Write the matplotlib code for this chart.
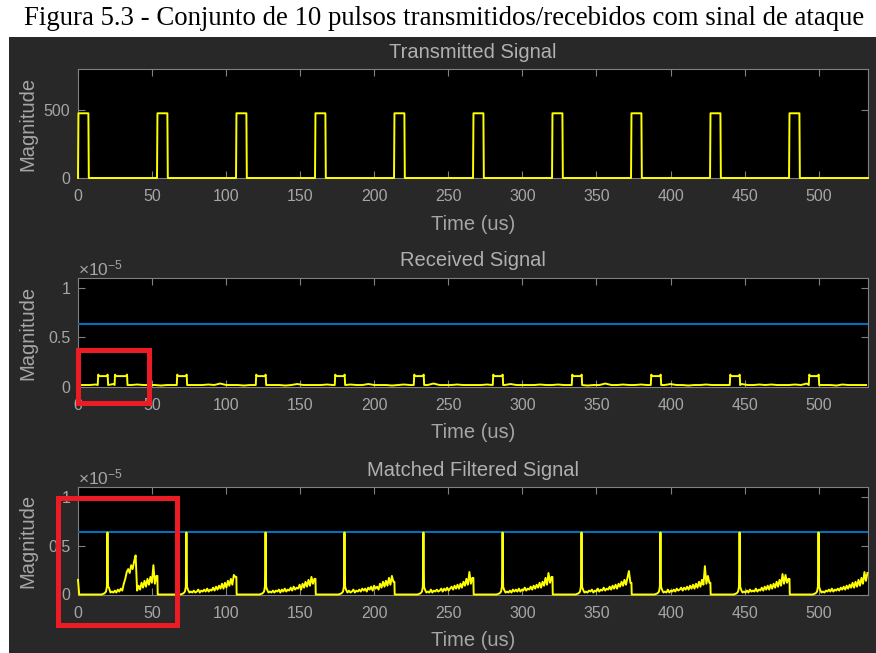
import numpy as np
import matplotlib.pyplot as plt
from matplotlib.patches import Rectangle

plt.rcParams['font.family'] = ['Liberation Sans', 'DejaVu Sans']
plt.rcParams['mathtext.fontset'] = 'custom'
plt.rcParams['mathtext.rm'] = 'Liberation Sans'
plt.rcParams['mathtext.it'] = 'Liberation Sans:italic'

# time in microseconds; received / filtered magnitudes in units of 1e-5
t_end = 533.3

tx_starts = [0.0, 53.33, 106.67, 160.0, 213.33, 266.67, 320.0, 373.33, 426.67, 480.0]
tx_width = 7.0
tx_level = 475.0

rx_starts = [13.33, 66.67, 120.0, 173.33, 226.67, 280.0, 333.33, 386.67, 440.0, 493.33]
rx_width = 7.0
rx_level = 0.11
rx_corner = 0.125
attack_start = 24.7
attack_end = 33.4
rx_floor_step = 4.0
rx_floor = [
    0.02, 0.02, 0.02, 0.025, 0.02, 0.02, 0.03, 0.02, 0.02, 0.02, 0.025, 0.02, 0.02, 0.02, 0.015, 0.02, 0.02,
    0.02, 0.03, 0.02, 0.02, 0.02, 0.025, 0.02, 0.035, 0.02, 0.02, 0.02, 0.015, 0.02, 0.025, 0.02, 0.02, 0.02,
    0.02, 0.015, 0.02, 0.03, 0.02, 0.02, 0.02, 0.02, 0.025, 0.02, 0.02, 0.02, 0.025, 0.02, 0.02, 0.03, 0.02,
    0.02, 0.02, 0.015, 0.02, 0.025, 0.02, 0.02, 0.02, 0.02, 0.035, 0.02, 0.02, 0.02, 0.025, 0.02, 0.02, 0.02,
    0.02, 0.025, 0.02, 0.015, 0.02, 0.03, 0.02, 0.02, 0.02, 0.02, 0.025, 0.02, 0.02, 0.025, 0.02, 0.02, 0.03,
    0.02, 0.015, 0.02, 0.02, 0.035, 0.02, 0.02, 0.025, 0.02, 0.02, 0.025, 0.02, 0.02, 0.02, 0.02, 0.03, 0.02,
    0.02, 0.015, 0.02, 0.02, 0.025, 0.02, 0.02, 0.02, 0.015, 0.02, 0.03, 0.02, 0.02, 0.025, 0.02, 0.025, 0.02,
    0.02, 0.02, 0.025, 0.02, 0.035, 0.02, 0.02, 0.02, 0.02, 0.015, 0.025, 0.02, 0.02, 0.02, 0.02,
]

threshold = 0.635

mf_start_level = 0.15
mf_peaks = [19.9, 73.2, 126.6, 179.9, 233.2, 286.6, 339.9, 393.2, 446.6, 499.9]
mf_peak_level = 0.635
mf_drop_offset = 33.7
# filter output after each peak, one sample per microsecond
mf_tails = [
    [0.07, 0.02, 0.03, 0.02, 0.04, 0.02, 0.05, 0.03, 0.06, 0.04, 0.11, 0.16, 0.23, 0.26, 0.22, 0.30, 0.26,
     0.34, 0.40, 0.04, 0.09, 0.05, 0.12, 0.07, 0.14, 0.08, 0.16, 0.10, 0.18, 0.12, 0.30, 0.11, 0.19],
    [0.05, 0.02, 0.03, 0.02, 0.04, 0.02, 0.03, 0.05, 0.02, 0.04, 0.03, 0.05, 0.03, 0.06, 0.03, 0.05, 0.04,
     0.07, 0.04, 0.08, 0.05, 0.09, 0.06, 0.11, 0.06, 0.12, 0.07, 0.14, 0.09, 0.16, 0.10, 0.20, 0.18],
    [0.05, 0.02, 0.03, 0.02, 0.04, 0.02, 0.04, 0.03, 0.05, 0.02, 0.05, 0.03, 0.06, 0.03, 0.05, 0.04, 0.07,
     0.04, 0.08, 0.05, 0.07, 0.06, 0.10, 0.05, 0.11, 0.07, 0.13, 0.08, 0.15, 0.09, 0.18, 0.11, 0.16],
    [0.05, 0.02, 0.04, 0.02, 0.03, 0.05, 0.02, 0.04, 0.03, 0.05, 0.03, 0.06, 0.04, 0.06, 0.03, 0.07, 0.05,
     0.08, 0.04, 0.09, 0.06, 0.08, 0.05, 0.11, 0.07, 0.13, 0.08, 0.14, 0.09, 0.17, 0.10, 0.19, 0.13],
    [0.05, 0.02, 0.03, 0.02, 0.05, 0.02, 0.04, 0.03, 0.05, 0.03, 0.04, 0.06, 0.03, 0.06, 0.04, 0.07, 0.04,
     0.06, 0.08, 0.05, 0.09, 0.06, 0.10, 0.06, 0.11, 0.07, 0.13, 0.09, 0.16, 0.10, 0.23, 0.11, 0.17],
    [0.05, 0.02, 0.03, 0.02, 0.04, 0.02, 0.05, 0.03, 0.05, 0.03, 0.06, 0.03, 0.05, 0.04, 0.07, 0.04, 0.06,
     0.05, 0.08, 0.05, 0.09, 0.06, 0.10, 0.07, 0.12, 0.07, 0.13, 0.09, 0.17, 0.10, 0.22, 0.12, 0.18],
    [0.05, 0.02, 0.03, 0.02, 0.04, 0.03, 0.05, 0.02, 0.04, 0.03, 0.06, 0.03, 0.05, 0.04, 0.07, 0.04, 0.06,
     0.05, 0.08, 0.05, 0.09, 0.06, 0.10, 0.06, 0.11, 0.08, 0.13, 0.09, 0.15, 0.10, 0.17, 0.24, 0.12],
    [0.05, 0.02, 0.03, 0.02, 0.05, 0.02, 0.04, 0.03, 0.05, 0.03, 0.06, 0.04, 0.05, 0.07, 0.04, 0.07, 0.05,
     0.08, 0.05, 0.09, 0.06, 0.10, 0.06, 0.11, 0.07, 0.13, 0.08, 0.15, 0.10, 0.29, 0.11, 0.19, 0.12],
    [0.05, 0.02, 0.03, 0.02, 0.04, 0.02, 0.05, 0.03, 0.04, 0.03, 0.06, 0.03, 0.05, 0.04, 0.07, 0.04, 0.08,
     0.05, 0.09, 0.05, 0.10, 0.06, 0.11, 0.07, 0.13, 0.08, 0.15, 0.09, 0.21, 0.11, 0.20, 0.12, 0.16],
    [0.05, 0.02, 0.03, 0.02, 0.04, 0.03, 0.05, 0.03, 0.06, 0.03, 0.05, 0.04, 0.06, 0.04, 0.07, 0.05, 0.08,
     0.05, 0.09, 0.06, 0.10, 0.07, 0.12, 0.07, 0.13, 0.08, 0.15, 0.09, 0.17, 0.11, 0.23, 0.14, 0.22],
]

# highlight boxes (x0, y0, width, height) in data units of their axes
box_received = (0.3, -0.165, 47.9, 0.54)
box_filtered = (-13.8, -0.31, 80.9, 1.295)

xticks = list(range(0, 501, 50))
fig_title = 'Figura 5.3 - Conjunto de 10 pulsos transmitidos/recebidos com sinal de ataque'

W, H = 876, 653
bg = '#282828'
spine = '#808080'
txt = '#a6a6a6'
yellow = '#ffff00'
blue = '#0072bd'
red = '#ed1c24'


def transmitted_trace():
    ts, ys = [], []
    for s in tx_starts:
        e = s + tx_width
        ts += [s, s + 0.3, e, e + 0.3]
        ys += [0.0, tx_level, tx_level, 0.0]
    ts.append(t_end)
    ys.append(0.0)
    return ts, ys


def received_trace():
    pulses = sorted([(s, s + rx_width) for s in rx_starts] + [(attack_start, attack_end)])
    pts = []
    for i, v in enumerate(rx_floor):
        t = i * rx_floor_step
        if not any(s <= t <= e for s, e in pulses):
            pts.append((t, v))
    for s, e in pulses:
        pts += [(s, 0.02), (s + 0.3, rx_corner), (s + 1.0, rx_level),
                (e - 1.0, rx_level), (e - 0.3, rx_corner), (e, 0.02)]
    pts.sort()
    return [p[0] for p in pts], [p[1] for p in pts]


def filtered_trace():
    ts = [0.0, 0.8]
    ys = [mf_start_level, 0.0]
    for peak, tail in zip(mf_peaks, mf_tails):
        ts += [peak - 4.0, peak - 2.0, peak - 1.0, peak - 0.4, peak, peak + 0.4]
        ys += [0.0, 0.012, 0.03, 0.08, mf_peak_level, 0.08]
        ts += [peak + 1.0 + i for i in range(len(tail))]
        ys += tail
        drop = peak + mf_drop_offset
        if drop < t_end:
            ts += [drop, drop + 0.2]
            ys += [tail[-1], 0.0]
    return ts, ys


def px_axes(fig, left, top, right, bottom):
    return fig.add_axes([left / W, 1 - bottom / H, (right - left) / W, (bottom - top) / H])


def style_axes(ax, title, height_px):
    ax.set_facecolor('black')
    for sp in ax.spines.values():
        sp.set_color(spine)
        sp.set_linewidth(0.8)
    ax.tick_params(direction='in', length=5, top=True, right=True, color=spine,
                   labelcolor=txt, labelsize=11.5, width=0.8)
    ax.tick_params(axis='x', pad=8)
    ax.tick_params(axis='y', pad=5.5)
    ax.set_xlim(0, t_end)
    ax.set_xticks(xticks)
    ax.set_xlabel('Time (us)', color=txt, fontsize=14.5, va='center')
    ax.xaxis.set_label_coords(0.5, -46 / height_px)
    ax.set_ylabel('Magnitude', color=txt, fontsize=14.5, va='center')
    ax.yaxis.set_label_coords(-50 / 790, 0.5)
    ax.text(0.5, 1 + 17 / height_px, title, transform=ax.transAxes, ha='center', va='center',
            color='#b0b0b0', fontsize=14.5)


fig = plt.figure(figsize=(W / 100, H / 100), dpi=100)
fig.patch.set_facecolor('white')
fig.add_artist(Rectangle((9 / W, 0), (W - 9) / W, (H - 37) / H, transform=fig.transFigure,
                         facecolor=bg, edgecolor='none', zorder=0))
fig.text(444 / W, 1 - 18.5 / H, fig_title, ha='center', va='center', fontsize=19.3,
         family='Liberation Serif', color='black')

ax1 = px_axes(fig, 78, 69, 868, 178)
ax2 = px_axes(fig, 78, 278, 868, 387)
ax3 = px_axes(fig, 78, 487, 868, 594.5)

style_axes(ax1, 'Transmitted Signal', 109)
style_axes(ax2, 'Received Signal', 109)
style_axes(ax3, 'Matched Filtered Signal', 107.5)

tx_t, tx_y = transmitted_trace()
ax1.plot(tx_t, tx_y, color=yellow, lw=1.4, clip_on=False, zorder=5)
ax1.set_ylim(0, 800)
ax1.set_yticks([0, 500])

rx_t, rx_y = received_trace()
ax2.plot(rx_t, rx_y, color=yellow, lw=1.4, clip_on=False, zorder=5)
ax2.axhline(threshold, color=blue, lw=1.5, zorder=4)

mf_t, mf_y = filtered_trace()
ax3.plot(mf_t, mf_y, color=yellow, lw=1.4, clip_on=False, zorder=5)
ax3.axhline(threshold, color=blue, lw=1.5, zorder=4)

for ax, box in [(ax2, box_received), (ax3, box_filtered)]:
    ax.set_ylim(0, 1.1)
    ax.set_yticks([0, 0.5, 1])
    ax.set_yticklabels(['0', '0.5', '1'])
    ax.text(0, 1, r'$\times 10^{-5}$', transform=ax.transAxes, ha='left', va='bottom',
            color=txt, fontsize=12.5)
    ax.add_patch(Rectangle(box[:2], box[2], box[3], fill=False, edgecolor=red, lw=3.6,
                           clip_on=False, zorder=10))

fig.savefig('out.png', dpi=100, facecolor=fig.get_facecolor())
